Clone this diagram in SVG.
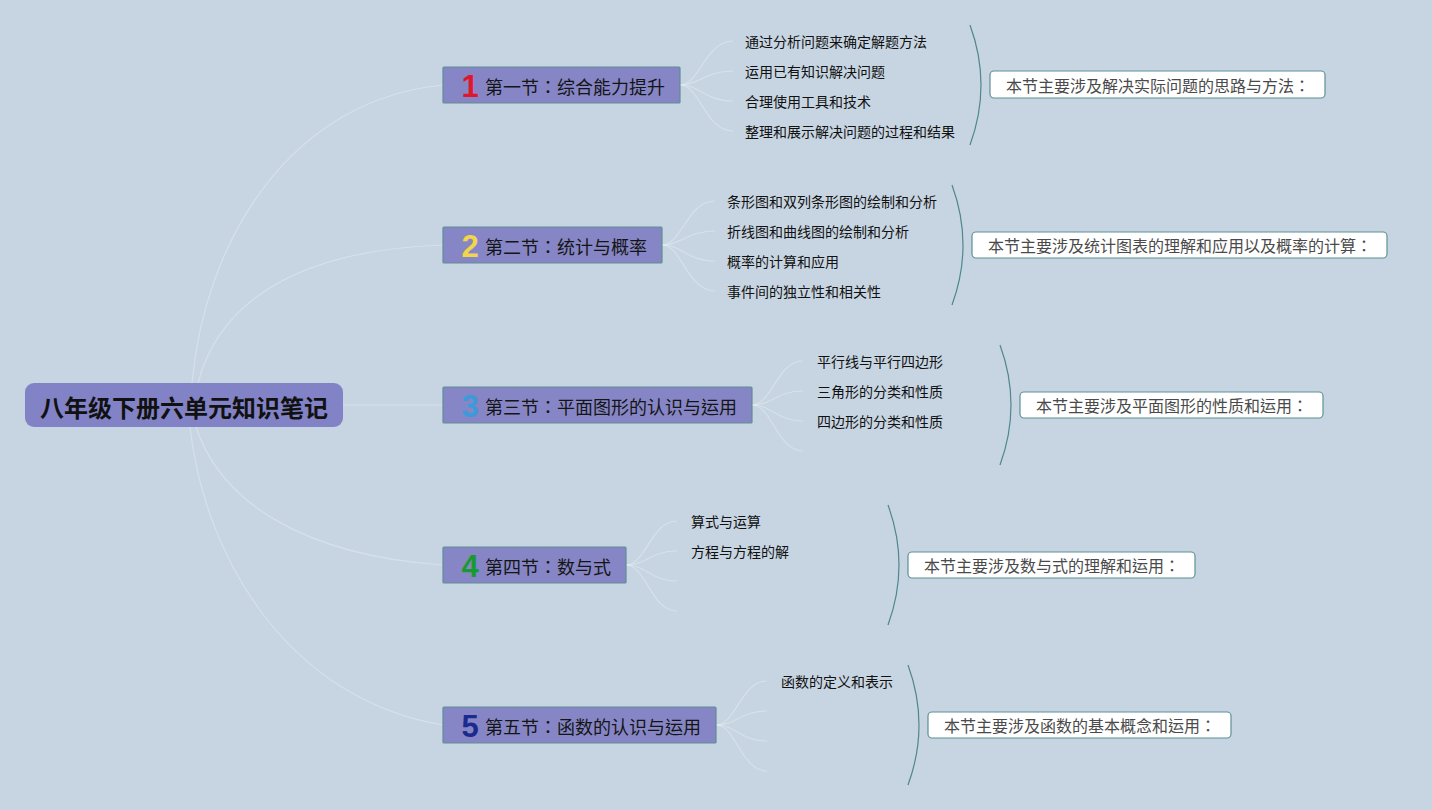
<svg xmlns="http://www.w3.org/2000/svg" width="1432" height="810" viewBox="0 0 1432 810">
<style>
.bg{fill:#c7d5e2}
.conn{fill:none;stroke:#ffffff;stroke-opacity:0.28;stroke-width:1.2}
.br{fill:none;stroke:#4f878d;stroke-width:1.2}
.root{fill:#8282c6}
.roott{font-family:"Noto Sans CJK SC","Noto Sans",sans-serif;font-weight:bold;font-size:24px;fill:#111}
.sec{fill:#8686c6;stroke:#5e8e92;stroke-width:1.2}
.sect{font-family:"Noto Sans CJK TC","Noto Sans CJK SC",sans-serif;font-size:18px;fill:#151515}
.num{font-family:"Liberation Sans","Noto Sans",sans-serif;font-weight:bold;font-size:31px}
.lbl{font-family:"Noto Sans CJK SC","Noto Sans",sans-serif;font-size:14px;fill:#111}
.sum{fill:#ffffff;stroke:#5e9096;stroke-width:1.2}
.sumt{font-family:"Noto Sans CJK TC","Noto Sans CJK SC",sans-serif;font-size:16px;fill:#4a4a4a}
</style>
<rect class="bg" x="0" y="0" width="1432" height="810"/>
<g id="connectors">
<path class="conn" d="M192,383 C205,240 290,100 443,85"/>
<path class="conn" d="M198,383 C220,300 300,250 443,245"/>
<path class="conn" d="M343,405 L443,405"/>
<path class="conn" d="M196,427 C220,500 300,555 443,565"/>
<path class="conn" d="M190,427 C205,560 290,700 443,725"/>
<path class="conn" d="M680,85 C700,85 705,41 733,41"/>
<path class="conn" d="M680,85 C700,85 705,71 733,71"/>
<path class="conn" d="M680,85 C700,85 705,101 733,101"/>
<path class="conn" d="M680,85 C700,85 705,131 733,131"/>
<path class="conn" d="M662,245 C682,245 687,201 715,201"/>
<path class="conn" d="M662,245 C682,245 687,231 715,231"/>
<path class="conn" d="M662,245 C682,245 687,261 715,261"/>
<path class="conn" d="M662,245 C682,245 687,291 715,291"/>
<path class="conn" d="M752,405 C772,405 777,361 803,361"/>
<path class="conn" d="M752,405 C772,405 777,391 803,391"/>
<path class="conn" d="M752,405 C772,405 777,421 803,421"/>
<path class="conn" d="M752,405 C772,405 777,451 803,451"/>
<path class="conn" d="M626,565 C646,565 651,521 677,521"/>
<path class="conn" d="M626,565 C646,565 651,551 677,551"/>
<path class="conn" d="M626,565 C646,565 651,581 677,581"/>
<path class="conn" d="M626,565 C646,565 651,611 677,611"/>
<path class="conn" d="M716,725 C736,725 741,681 767,681"/>
<path class="conn" d="M716,725 C736,725 741,711 767,711"/>
<path class="conn" d="M716,725 C736,725 741,741 767,741"/>
<path class="conn" d="M716,725 C736,725 741,771 767,771"/>
<path class="br" d="M970,25 Q992,85 970,145"/>
<path class="br" d="M952,185 Q974,245 952,305"/>
<path class="br" d="M1000,345 Q1022,405 1000,465"/>
<path class="br" d="M888,505 Q910,565 888,625"/>
<path class="br" d="M908,665 Q930,725 908,785"/>
</g>
<g id="root">
<rect class="root" x="25" y="383" width="318" height="44" rx="9"/>
<text class="roott" x="184" y="406" text-anchor="middle" dominant-baseline="central">八年级下册六单元知识笔记</text>
</g>
<g id="sec1">
<rect class="sec" x="443" y="67" width="237" height="36" rx="1"/>
<text class="num" x="470" y="86" text-anchor="middle" dominant-baseline="central" fill="#e0172b">1</text>
<text class="sect" x="485" y="86" dominant-baseline="central">第一节：综合能力提升</text>
</g>
<g id="sec1-items">
<text class="lbl" x="745" y="41" dominant-baseline="central">通过分析问题来确定解题方法</text>
<text class="lbl" x="745" y="71" dominant-baseline="central">运用已有知识解决问题</text>
<text class="lbl" x="745" y="101" dominant-baseline="central">合理使用工具和技术</text>
<text class="lbl" x="745" y="131" dominant-baseline="central">整理和展示解决问题的过程和结果</text>
</g>
<g id="sum1">
<rect class="sum" x="990" y="71" width="335" height="27" rx="4"/>
<text class="sumt" x="1006" y="85" dominant-baseline="central">本节主要涉及解决实际问题的思路与方法：</text>
</g>
<g id="sec2">
<rect class="sec" x="443" y="227" width="219" height="36" rx="1"/>
<text class="num" x="470" y="246" text-anchor="middle" dominant-baseline="central" fill="#f2d64a">2</text>
<text class="sect" x="485" y="246" dominant-baseline="central">第二节：统计与概率</text>
</g>
<g id="sec2-items">
<text class="lbl" x="727" y="201" dominant-baseline="central">条形图和双列条形图的绘制和分析</text>
<text class="lbl" x="727" y="231" dominant-baseline="central">折线图和曲线图的绘制和分析</text>
<text class="lbl" x="727" y="261" dominant-baseline="central">概率的计算和应用</text>
<text class="lbl" x="727" y="291" dominant-baseline="central">事件间的独立性和相关性</text>
</g>
<g id="sum2">
<rect class="sum" x="972" y="232" width="415" height="26" rx="4"/>
<text class="sumt" x="988" y="245" dominant-baseline="central">本节主要涉及统计图表的理解和应用以及概率的计算：</text>
</g>
<g id="sec3">
<rect class="sec" x="443" y="387" width="309" height="36" rx="1"/>
<text class="num" x="470" y="406" text-anchor="middle" dominant-baseline="central" fill="#3b9ad8">3</text>
<text class="sect" x="485" y="406" dominant-baseline="central">第三节：平面图形的认识与运用</text>
</g>
<g id="sec3-items">
<text class="lbl" x="817" y="361" dominant-baseline="central">平行线与平行四边形</text>
<text class="lbl" x="817" y="391" dominant-baseline="central">三角形的分类和性质</text>
<text class="lbl" x="817" y="421" dominant-baseline="central">四边形的分类和性质</text>
</g>
<g id="sum3">
<rect class="sum" x="1020" y="392" width="303" height="26" rx="4"/>
<text class="sumt" x="1036" y="405" dominant-baseline="central">本节主要涉及平面图形的性质和运用：</text>
</g>
<g id="sec4">
<rect class="sec" x="443" y="547" width="183" height="36" rx="1"/>
<text class="num" x="470" y="566" text-anchor="middle" dominant-baseline="central" fill="#1a9a2e">4</text>
<text class="sect" x="485" y="566" dominant-baseline="central">第四节：数与式</text>
</g>
<g id="sec4-items">
<text class="lbl" x="691" y="521" dominant-baseline="central">算式与运算</text>
<text class="lbl" x="691" y="551" dominant-baseline="central">方程与方程的解</text>
</g>
<g id="sum4">
<rect class="sum" x="908" y="552" width="287" height="26" rx="4"/>
<text class="sumt" x="924" y="565" dominant-baseline="central">本节主要涉及数与式的理解和运用：</text>
</g>
<g id="sec5">
<rect class="sec" x="443" y="707" width="273" height="36" rx="1"/>
<text class="num" x="470" y="726" text-anchor="middle" dominant-baseline="central" fill="#1b2a8c">5</text>
<text class="sect" x="485" y="726" dominant-baseline="central">第五节：函数的认识与运用</text>
</g>
<g id="sec5-items">
<text class="lbl" x="781" y="681" dominant-baseline="central">函数的定义和表示</text>
</g>
<g id="sum5">
<rect class="sum" x="928" y="712" width="303" height="26" rx="4"/>
<text class="sumt" x="944" y="725" dominant-baseline="central">本节主要涉及函数的基本概念和运用：</text>
</g>
</svg>
